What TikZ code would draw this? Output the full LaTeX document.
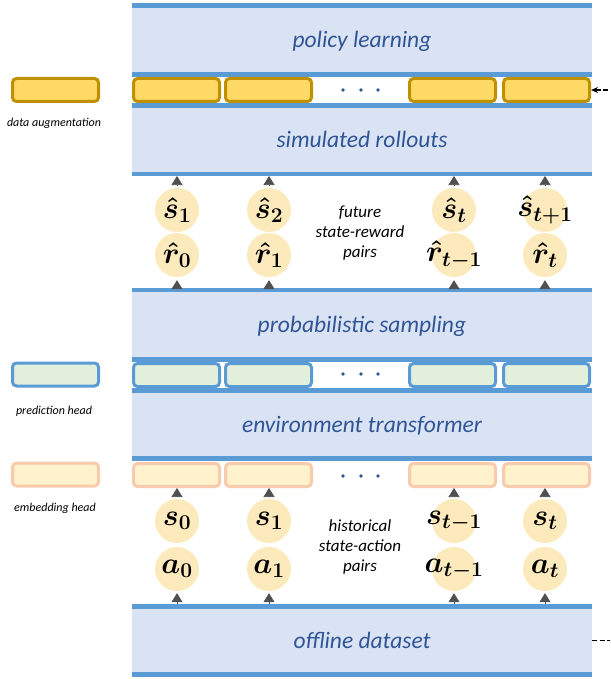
\RequirePackage{fix-cm}
\documentclass[tikz,border=0pt]{standalone}
\usepackage[no-math]{fontspec}
\setmainfont{Carlito}
\usepackage{bm}
\usetikzlibrary{arrows.meta}
\definecolor{bandfill}{HTML}{DAE3F3}
\definecolor{bline}{HTML}{5B9BD5}
\definecolor{tblue}{HTML}{2F5597}
\definecolor{yfill}{HTML}{FFD966}
\definecolor{ydraw}{HTML}{BF9000}
\definecolor{gfill}{HTML}{E2EFDA}
\definecolor{ofill}{HTML}{FFF2CC}
\definecolor{odraw}{HTML}{F8CBAD}
\definecolor{cfill}{RGB}{252,234,188}
\definecolor{agray}{HTML}{505050}
\newcommand{\tokm}[1]{\makebox[0pt]{$\bm{#1}$}}
\tikzset{
 band/.style={fill=bandfill, draw=none, minimum width=460pt, inner sep=0pt, text height=20pt, text depth=4pt, text=tblue, font=\fontsize{23.5}{28}\selectfont\itshape},
 cell/.style={rounded corners=4pt, line width=3pt, minimum width=86pt, minimum height=23pt, inner sep=0pt},
 ycell/.style={cell, draw=ydraw, fill=yfill},
 gcell/.style={cell, draw=bline, fill=gfill},
 ocell/.style={cell, draw=odraw, fill=ofill},
 tok/.style={circle, fill=cfill, minimum size=44pt, inner sep=0pt, font=\fontsize{30}{32}\selectfont},
 dotn/.style={circle, fill=tblue, minimum size=3.8pt, inner sep=0pt},
 midlab/.style={align=center, font=\fontsize{17}{20}\selectfont\itshape},
 leglab/.style={font=\fontsize{12}{14}\selectfont\itshape},
 arr/.style={draw=agray, line width=0.6pt, -{Triangle[length=9pt,width=11pt,fill=agray]}},
 feed/.style={draw=black, line width=1.3pt, dash pattern=on 5pt off 2.5pt, -{Stealth[length=7pt,width=6pt]}},
}
\begin{document}
\begin{tikzpicture}[x=1pt,y=-1pt]
\useasboundingbox (0,0) rectangle (610,679);
\begin{scope}
\clip (0,0) rectangle (610,679);
% bands
\node[band, minimum height=64pt] (policy) at (362,40) {policy learning};
\node[band, minimum height=64pt] (sim) at (362,140) {simulated rollouts};
\node[band, minimum height=65pt] (prob) at (362,324.5) {probabilistic sampling};
\node[band, minimum height=63pt] (env) at (362,424.5) {environment transformer};
\node[band, minimum height=63pt] (offline) at (362,640.5) {offline dataset};
% blue rules
\foreach \a/\b in {3/8, 72/77, 103/108, 172/176, 288/292, 357/362, 388/393, 456/461, 604/609, 672/677}
  \fill[bline] (132,\a) rectangle (592,\b);
% rows of cells
\foreach \x [count=\i] in {176.5,268.5,452.5,546.5} {
  \node[ycell] (y\i) at (\x,90) {};
  \node[gcell] (g\i) at (\x,375) {};
  \node[ocell] (e\i) at (\x,475) {};
}
% dots
\foreach \y/\r in {90/y,374/g,476/e}
  \foreach \x [count=\i] in {343,361,378}
    \node[dotn] (\r d\i) at (\x,\y) {};
% tokens
\node[tok] (u1) at (177,210) {\tokm{\hat{s}_1}};
\node[tok] (u2) at (269,210) {\tokm{\hat{s}_2}};
\node[tok] (u3) at (454,210) {\tokm{\hat{s}_t}};
\node[tok] (u4) at (545,210) {\tokm{\hat{s}_{t+1}}};
\node[tok] (v1) at (177,255) {\tokm{\hat{r}_0}};
\node[tok] (v2) at (269,255) {\tokm{\hat{r}_1}};
\node[tok] (v3) at (454,255) {\tokm{\hat{r}_{t-1}}};
\node[tok] (v4) at (545,255) {\tokm{\hat{r}_t}};
\node[tok] (s1) at (177,521) {\tokm{s_0}};
\node[tok] (s2) at (269,521) {\tokm{s_1}};
\node[tok] (s3) at (454,521) {\tokm{s_{t-1}}};
\node[tok] (s4) at (545,521) {\tokm{s_t}};
\node[tok] (a1) at (177,569) {\tokm{a_0}};
\node[tok] (a2) at (269,569) {\tokm{a_1}};
\node[tok] (a3) at (454,569) {\tokm{a_{t-1}}};
\node[tok] (a4) at (545,569) {\tokm{a_t}};
% arrows
\coordinate (topU) at (0,176);
\coordinate (botU) at (0,288);
\coordinate (botL) at (0,604);
\foreach \i in {1,2,3,4} {
  \draw[arr, shorten <=2pt] (u\i) -- (u\i |- topU);
  \draw[arr, shorten >=3pt] (v\i |- botU) -- (v\i);
  \draw[arr, shorten <=3pt] (s\i) -- (s\i |- e\i.south);
  \draw[arr, shorten >=2pt] (a\i |- botL) -- (a\i);
}
% middle labels
\node[midlab] (fut) at (360,233) {future\\state-reward\\pairs};
\node[midlab] (hist) at (360,547) {historical\\state-action\\pairs};
% legend
\node[ycell] (ly) at (55.5,90) {};
\node[leglab] (lyt) at (54,123) {data augmentation};
\node[gcell] (lg) at (55.5,374.5) {};
\node[leglab] (lgt) at (54,411) {prediction head};
\node[ocell] (le) at (55.5,474.5) {};
\node[leglab] (let) at (55,508) {embedding head};
% feedback
\coordinate (fr) at (640,640.5);
\draw[feed] (offline.east) -- (fr) |- (y4.east);
\end{scope}
\end{tikzpicture}
\end{document}
